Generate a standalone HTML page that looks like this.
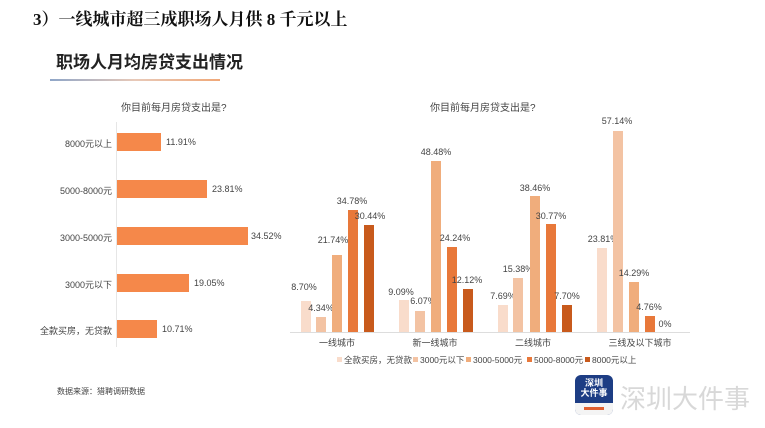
<!DOCTYPE html>
<html><head><meta charset="utf-8"><style>
body{margin:0;width:765px;height:428px;background:#fff;position:relative;overflow:hidden;font-family:"Liberation Sans","Noto Sans CJK SC",sans-serif;}
div{position:absolute;}
.t{font-size:9px;color:#444;white-space:nowrap;}
.lb{font-size:9px;color:#444;white-space:nowrap;text-align:right;width:110px;}
.hb{background:#f5884a;height:18px;left:117px;}
</style></head><body>
<div style="left:33px;top:5px;font-size:17px;color:#111;font-weight:bold;font-family:'Liberation Serif','Noto Serif CJK SC',serif;">3）一线城市超三成职场人月供 8 千元以上</div>
<div style="left:56px;top:48px;font-size:17px;font-weight:bold;color:#222;">职场人月均房贷支出情况</div>
<div style="left:50px;top:79px;width:170px;height:2px;background:linear-gradient(90deg,#8fa6c8,#e8c9b8,#f0a878);"></div>
<div class="t" style="left:121px;top:99px;font-size:10px;">你目前每月房贷支出是?</div>
<div style="left:116px;top:122px;width:1px;height:225px;background:#e6e6e6;"></div>
<div class="lb" style="left:2px;top:137px;">8000元以上</div><div class="hb" style="top:133px;width:44px;"></div><div class="t" style="left:166px;top:137px;">11.91%</div>
<div class="lb" style="left:2px;top:184px;">5000-8000元</div><div class="hb" style="top:180px;width:90px;"></div><div class="t" style="left:212px;top:184px;">23.81%</div>
<div class="lb" style="left:2px;top:231px;">3000-5000元</div><div class="hb" style="top:227px;width:131px;"></div><div class="t" style="left:251px;top:231px;">34.52%</div>
<div class="lb" style="left:2px;top:278px;">3000元以下</div><div class="hb" style="top:274px;width:72px;"></div><div class="t" style="left:194px;top:278px;">19.05%</div>
<div class="lb" style="left:2px;top:324px;">全款买房，无贷款</div><div class="hb" style="top:320px;width:40px;"></div><div class="t" style="left:162px;top:324px;">10.71%</div>
<div class="t" style="left:57px;top:386px;font-size:8px;">数据来源：猎聘调研数据</div>

<div class="t" style="left:430px;top:99px;font-size:10px;">你目前每月房贷支出是?</div>
<div style="left:290px;top:332px;width:400px;height:1px;background:#ddd;"></div>
<svg style="position:absolute;left:0;top:0" width="765" height="428">
<g font-family="Liberation Sans" font-size="9" fill="#444" text-anchor="middle">
<rect x="301" y="301" width="10" height="31" fill="#f9dccb"/><text x="304" y="290">8.70%</text>
<rect x="316" y="317" width="10" height="15" fill="#f3c3a3"/><text x="321" y="311">4.34%</text>
<rect x="332" y="255" width="10" height="77" fill="#f0ad7c"/><text x="333" y="243">21.74%</text>
<rect x="348" y="210" width="10" height="122" fill="#e8783a"/><text x="352" y="204">34.78%</text>
<rect x="364" y="225" width="10" height="107" fill="#c85a1c"/><text x="370" y="219">30.44%</text>
<rect x="399" y="300" width="10" height="32" fill="#f9dccb"/><text x="401" y="295">9.09%</text>
<rect x="415" y="311" width="10" height="21" fill="#f3c3a3"/><text x="423" y="304">6.07%</text>
<rect x="431" y="161" width="10" height="171" fill="#f0ad7c"/><text x="436" y="155">48.48%</text>
<rect x="447" y="247" width="10" height="85" fill="#e8783a"/><text x="455" y="241">24.24%</text>
<rect x="463" y="289" width="10" height="43" fill="#c85a1c"/><text x="467" y="283">12.12%</text>
<rect x="498" y="305" width="10" height="27" fill="#f9dccb"/><text x="503" y="299">7.69%</text>
<rect x="513" y="278" width="10" height="54" fill="#f3c3a3"/><text x="518" y="272">15.38%</text>
<rect x="530" y="196" width="10" height="136" fill="#f0ad7c"/><text x="535" y="191">38.46%</text>
<rect x="546" y="224" width="10" height="108" fill="#e8783a"/><text x="551" y="219">30.77%</text>
<rect x="562" y="305" width="10" height="27" fill="#c85a1c"/><text x="567" y="299">7.70%</text>
<rect x="597" y="248" width="10" height="84" fill="#f9dccb"/><text x="603" y="242">23.81%</text>
<rect x="613" y="131" width="10" height="201" fill="#f3c3a3"/><text x="617" y="124">57.14%</text>
<rect x="629" y="282" width="10" height="50" fill="#f0ad7c"/><text x="634" y="276">14.29%</text>
<rect x="645" y="316" width="10" height="16" fill="#e8783a"/><text x="649" y="310">4.76%</text>
<text x="665" y="327">0%</text>
<text x="337" y="346">一线城市</text>
<text x="435" y="346">新一线城市</text>
<text x="533" y="346">二线城市</text>
<text x="640" y="346">三线及以下城市</text>
</g>
<g font-family="Liberation Sans,Noto Sans CJK SC" font-size="8.5" fill="#444">
<rect x="337" y="357" width="5" height="5" fill="#f9dccb"/><text x="344" y="363">全款买房，无贷款</text>
<rect x="413" y="357" width="5" height="5" fill="#f3c3a3"/><text x="420" y="363">3000元以下</text>
<rect x="466" y="357" width="5" height="5" fill="#f0ad7c"/><text x="473" y="363">3000-5000元</text>
<rect x="527" y="357" width="5" height="5" fill="#e8783a"/><text x="534" y="363">5000-8000元</text>
<rect x="585" y="357" width="5" height="5" fill="#c85a1c"/><text x="592" y="363">8000元以上</text>
</g>
</svg>
<div style="left:575px;top:375px;width:38px;height:40px;border-radius:6px;background:#1d3d84;overflow:hidden;">
<div style="left:0;top:3px;width:38px;text-align:center;color:#fff;font-size:9px;font-weight:bold;line-height:10px;">深圳<br>大件事</div>
<div style="left:0;top:28px;width:38px;height:12px;background:#f4f4f4;"></div>
<div style="left:9px;top:32px;width:20px;height:3px;background:#e06030;"></div>
</div>
<div style="left:620px;top:379px;font-size:26px;color:#d8d8d8;white-space:nowrap;">深圳大件事</div>
</body></html>
